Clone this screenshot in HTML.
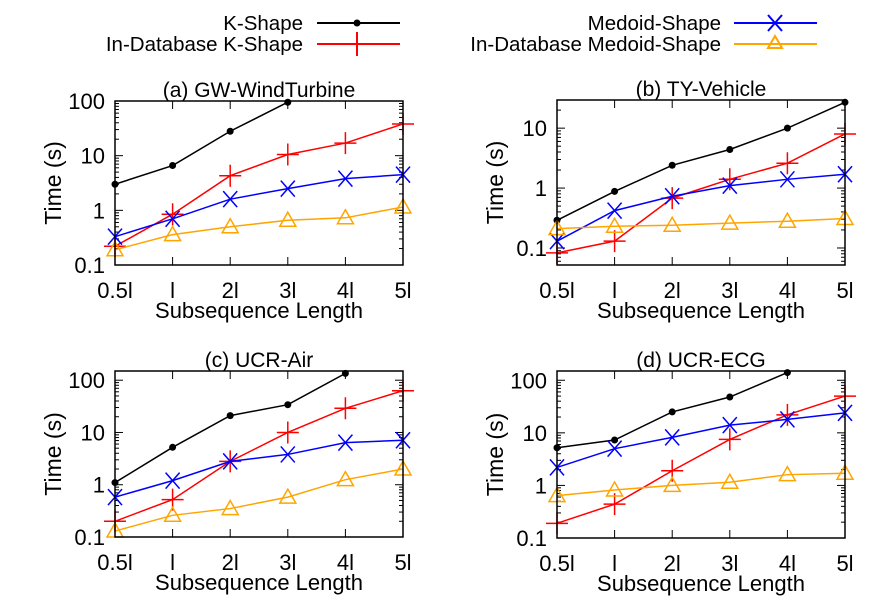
<!DOCTYPE html>
<html><head><meta charset="utf-8">
<style>
html,body{margin:0;padding:0;background:#fff;}
svg{display:block;font-family:"Liberation Sans",Arial,sans-serif;}
</style></head>
<body>
<svg id="chart" width="887" height="614" viewBox="0 0 887 614" xmlns="http://www.w3.org/2000/svg">
<g>
 <g>
  <text x="303" y="30" text-anchor="end" font-size="20.5">K-Shape</text>
  <line x1="317" y1="23" x2="400" y2="23" stroke="#000" stroke-width="2"/>
  <circle cx="357" cy="23" r="3.5" fill="#000"/>
 </g>
 <g>
  <text x="303" y="51" text-anchor="end" font-size="20.5">In-Database K-Shape</text>
  <line x1="317" y1="44" x2="400" y2="44" stroke="#f00" stroke-width="2"/>
  <path d="M357 32V56M345 44H369" stroke="#f00" stroke-width="2"/>
 </g>
 <g>
  <text x="721" y="30" text-anchor="end" font-size="20.5">Medoid-Shape</text>
  <line x1="734" y1="23" x2="817" y2="23" stroke="#00f" stroke-width="2"/>
  <path d="M768 15L782 31M782 15L768 31" stroke="#00f" stroke-width="2"/>
 </g>
 <g>
  <text x="721" y="51" text-anchor="end" font-size="20.5">In-Database Medoid-Shape</text>
  <line x1="734" y1="44" x2="817" y2="44" stroke="#ffa500" stroke-width="2"/>
  <path d="M775 36L782 48L768 48Z" fill="none" stroke="#ffa500" stroke-width="2"/>
 </g>
</g>
</svg>
<script>
const categories = ["0.5l","l","2l","3l","4l","5l"];
// panel (a) GW-WindTurbine
const aKShape   = [3.0, 6.6, 28, 95, null, null];
const aInDbK    = [0.22, 0.85, 4.3, 10.5, 17, 38];
const aMedoid   = [0.33, 0.7, 1.6, 2.5, 3.8, 4.5];
const aInDbMed  = [0.19, 0.36, 0.5, 0.66, 0.73, 1.15];
// panel (b) TY-Vehicle
const bKShape   = [0.29, 0.88, 2.4, 4.4, 10, 27];
const bInDbK    = [0.083, 0.13, 0.68, 1.4, 2.6, 8];
const bMedoid   = [0.13, 0.42, 0.73, 1.1, 1.4, 1.7];
const bInDbMed  = [0.21, 0.23, 0.24, 0.26, 0.28, 0.31];
// panel (c) UCR-Air
const cKShape   = [1.1, 5.2, 21, 34, 135, null];
const cInDbK    = [0.2, 0.52, 2.8, 10, 29, 63];
const cMedoid   = [0.58, 1.2, 2.8, 3.8, 6.4, 7.1];
const cInDbMed  = [0.13, 0.26, 0.35, 0.58, 1.25, 2.0];
// panel (d) UCR-ECG
const dKShape   = [5.2, 7.3, 25, 48, 140, null];
const dInDbK    = [0.19, 0.44, 1.9, 7.5, 22, 50];
const dMedoid   = [2.2, 5.0, 8.2, 14, 18, 24];
const dInDbMed  = [0.64, 0.82, 1.0, 1.15, 1.6, 1.7];
const yTickLabelsAC = ["0.1","1","10","100"];
const yTickLabelsB = ["0.1","1","10"];

const NS="http://www.w3.org/2000/svg";
const svg=document.getElementById('chart');
function mk(tag,attrs,parent){const e=document.createElementNS(NS,tag);for(const k in attrs)e.setAttribute(k,attrs[k]);(parent||svg).appendChild(e);return e;}

const panels=[
 {key:'a',title:'(a) GW-WindTurbine',L:115,R:403,T:101,B:265,ymin:0.1,ymax:100,ticks:yTickLabelsAC,series:[aKShape,aInDbK,aMedoid,aInDbMed]},
 {key:'b',title:'(b) TY-Vehicle',L:557,R:845,T:100,B:265,ymin:0.052,ymax:29.5,ticks:yTickLabelsB,series:[bKShape,bInDbK,bMedoid,bInDbMed]},
 {key:'c',title:'(c) UCR-Air',L:115,R:403,T:371,B:537,ymin:0.1,ymax:150,ticks:yTickLabelsAC,series:[cKShape,cInDbK,cMedoid,cInDbMed]},
 {key:'d',title:'(d) UCR-ECG',L:557,R:845,T:371,B:538,ymin:0.1,ymax:150,ticks:yTickLabelsAC,series:[dKShape,dInDbK,dMedoid,dInDbMed]}
];
const colors=['#000','#f00','#00f','#ffa500'];
const snames=['k-shape','in-database-k-shape','medoid-shape','in-database-medoid-shape'];

panels.forEach(p=>{
 const g=mk('g',{});
 
 
 const xs=i=>p.L+(p.R-p.L)*i/(categories.length-1);
 const ys=v=>p.B-(Math.log10(v)-Math.log10(p.ymin))/(Math.log10(p.ymax)-Math.log10(p.ymin))*(p.B-p.T);
 const t=mk('text',{x:(p.L+p.R)/2,y:p.T-4,'text-anchor':'middle','font-size':21},g);
 t.textContent=p.title;
 
 
 const lo=Math.floor(Math.log10(p.ymin)),hi=Math.ceil(Math.log10(p.ymax));
 for(let e=lo;e<=hi;e++){for(let m=1;m<10;m++){const v=m*Math.pow(10,e);if(v<p.ymin*0.999||v>p.ymax*1.001)continue;const y=ys(v);const len=m===1?8:4;
  mk('line',{x1:p.L,x2:p.L+len,y1:y,y2:y,stroke:'#000','stroke-width':1},g);
  mk('line',{x1:p.R,x2:p.R-len,y1:y,y2:y,stroke:'#000','stroke-width':1},g);}}
 p.ticks.forEach(lb=>{const y=ys(parseFloat(lb));const tx=mk('text',{x:p.L-10,y:y+8,'text-anchor':'end','font-size':22},g);tx.textContent=lb;
  
  });
 categories.forEach((c,i)=>{const x=xs(i);
  mk('line',{x1:x,x2:x,y1:p.B,y2:p.B-8,stroke:'#000'},g);mk('line',{x1:x,x2:x,y1:p.T,y2:p.T+8,stroke:'#000'},g);
  const tx=mk('text',{x:x,y:p.B+33,'text-anchor':'middle','font-size':22},g);tx.textContent=c;
  
  });
 const xl=mk('text',{x:(p.L+p.R)/2,y:p.B+53,'text-anchor':'middle','font-size':22},g);xl.textContent='Subsequence Length';
 
 
 const cy=(p.T+p.B)/2,cx=p.L-54;
 const yl=mk('text',{x:cx,y:cy,'text-anchor':'middle','font-size':23,transform:`rotate(-90 ${cx} ${cy})`},g);yl.textContent='Time (s)';
 
 
 p.series.forEach((arr,si)=>{
  const sg=mk('g',{},g);
  
  
  const pts=[];arr.forEach((v,i)=>{if(v!=null)pts.push([xs(i),ys(v)]);});
  mk('polyline',{points:pts.map(q=>q.join(',')).join(' '),fill:'none',stroke:colors[si],'stroke-width':1.5},sg);
  pts.forEach(([x,y])=>{let m;
   if(si===0)m=mk('circle',{cx:x,cy:y,r:3.5,fill:'#000'},sg);
   else if(si===1)m=mk('path',{d:`M${x} ${y-11}V${y+11}M${x-11} ${y}H${x+11}`,stroke:'#f00','stroke-width':1.5},sg);
   else if(si===2)m=mk('path',{d:`M${x-7} ${y-8}L${x+7} ${y+8}M${x+7} ${y-8}L${x-7} ${y+8}`,stroke:'#00f','stroke-width':1.5},sg);
   else m=mk('path',{d:`M${x} ${y-8}L${x+8} ${y+6}L${x-8} ${y+6}Z`,fill:'none',stroke:'#ffa500','stroke-width':1.5},sg);
   
   });
 });
 const fr=mk('rect',{x:p.L,y:p.T,width:p.R-p.L,height:p.B-p.T,fill:'none',stroke:'#000','stroke-width':1.5},g);
 
 
});
</script>
</body></html>
